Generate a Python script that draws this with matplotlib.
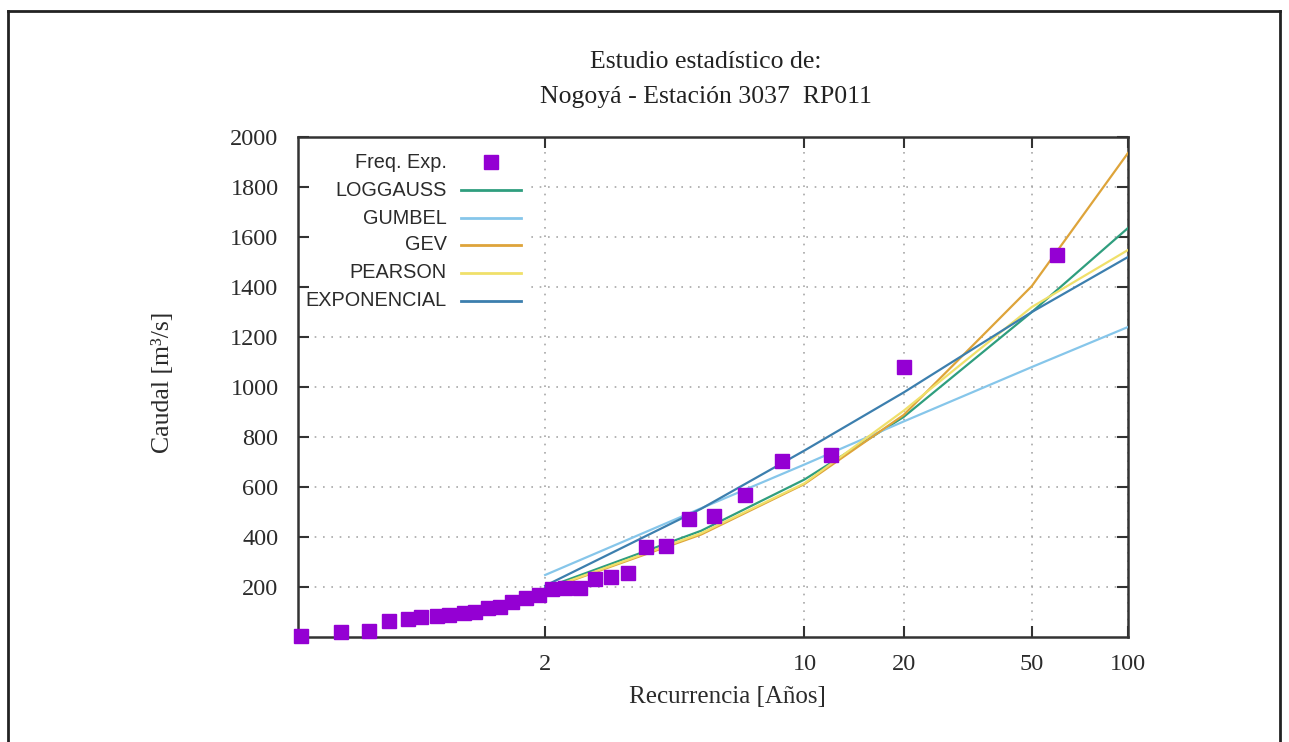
import numpy as np
import matplotlib.pyplot as plt
from matplotlib.lines import Line2D
from matplotlib.patches import Rectangle

""" Data """
# frecuencia experimental (periodo de retorno en años, caudal m3/s)
t_exp = [60.0, 20.0, 12.0, 8.57, 6.67, 5.45, 4.62, 4.0, 3.53, 3.16,
         2.86, 2.61, 2.40, 2.22, 2.07, 1.94, 1.82, 1.71, 1.62, 1.54,
         1.46, 1.40, 1.33, 1.28, 1.22, 1.18, 1.13, 1.09, 1.05, 1.017]
q_exp = [1528, 1080, 728, 704, 568, 484, 472, 364, 360, 256,
         240, 232, 196, 196, 192, 168, 156, 140, 122, 116,
         100, 96, 88, 84, 80, 72, 64, 24, 20, 6]

# ajustes
t_fit = [2, 5, 10, 20, 50, 100]
loggauss = [196, 425, 630, 880, 1300, 1636]
gumbel = [248, 515, 690, 862, 1080, 1240]
gev = [188, 410, 612, 888, 1404, 1936]
pearson = [190, 415, 615, 905, 1320, 1548]
exponencial = [205, 513, 746, 978, 1300, 1520]

x_ticks = [2, 10, 20, 50, 100]
y_ticks = [200, 400, 600, 800, 1000, 1200, 1400, 1600, 1800, 2000]

series = [("LOGGAUSS", loggauss, "#2f9e7e"),
          ("GUMBEL", gumbel, "#86c6ea"),
          ("GEV", gev, "#dea43a"),
          ("PEARSON", pearson, "#f0e06a"),
          ("EXPONENCIAL", exponencial, "#3c7fae")]


""" Gumbel scale """
def fwd(t):
    t = np.asarray(t, dtype=float)
    with np.errstate(all="ignore"):
        return -np.log(-np.log(1 - 1 / t))


def inv(y):
    y = np.asarray(y, dtype=float)
    with np.errstate(all="ignore"):
        return 1 / (1 - np.exp(-np.exp(-y)))


""" Plot """
serif = "Liberation Serif"
sans = "Liberation Sans"
txt = "#2b2b2b"

fig = plt.figure(figsize=(12.89, 7.42), dpi=100)
ax = fig.add_axes([298 / 1289, 1 - 637 / 742, 830 / 1289, 500 / 742])
ax.set_xscale("function", functions=(fwd, inv))

for name, vals, c in series:
    ax.plot(t_fit, vals, color=c, lw=1.6, zorder=3)

ax.plot(t_exp, q_exp, "s", color="#9400d3", ms=9.5, zorder=4, clip_on=False)

ax.set_xlim(1.01565, 100)
ax.set_ylim(0, 2000)
ax.set_xticks(x_ticks)
ax.set_xticklabels([str(v) for v in x_ticks])
ax.xaxis.set_minor_locator(plt.NullLocator())
ax.set_yticks(y_ticks)
ax.set_yticklabels([str(v) for v in y_ticks])

ax.tick_params(direction="in", top=True, right=True, length=8, width=1.5,
               color="#333333", labelsize=17.5, labelcolor=txt)
ax.tick_params(axis="x", pad=12)
ax.tick_params(axis="y", pad=14)
for lab in ax.get_xticklabels() + ax.get_yticklabels():
    lab.set_family(serif)

for s in ax.spines.values():
    s.set_linewidth(1.8)
    s.set_color("#333333")

ax.grid(True, linestyle=(0, (1, 4)), color="#a8a8a8", lw=1.2)

ax.set_xlabel("Recurrencia [Años]", family=serif, fontsize=18, color=txt, va="center")
ax.xaxis.set_label_coords(0.517, -0.12)
ax.set_ylabel("Caudal [m³/s]", family=serif, fontsize=18.5, color=txt, va="center")
ax.yaxis.set_label_coords(-0.163, 0.51)

fig.text(706 / 1289, 1 - 62 / 742, "Estudio estadístico de:", family=serif,
         fontsize=18.5, color="#222222", ha="center", va="center")
fig.text(706 / 1289, 1 - 97 / 742, "Nogoyá - Estación 3037  RP011", family=serif,
         fontsize=18.5, color="#222222", ha="center", va="center")

""" Key """
ax.add_patch(Rectangle((0.013, 0.638), 0.2665, 0.36, transform=ax.transAxes,
                       fc="white", ec="none", zorder=1.8))
key_y = [0.95, 0.894, 0.838, 0.784, 0.728, 0.672]
labels = ["Freq. Exp."] + [s[0] for s in series]
for i, (lab, ky) in enumerate(zip(labels, key_y)):
    ax.text(0.1795, ky, lab, transform=ax.transAxes, ha="right", va="center",
            family=sans, fontsize=14.3, color=txt, zorder=5)
    if i == 0:
        ax.add_line(Line2D([0.2325], [ky], transform=ax.transAxes, marker="s",
                           ms=9.5, color="#9400d3", ls="none", zorder=5))
    else:
        ax.add_line(Line2D([0.196, 0.2687], [ky, ky], transform=ax.transAxes,
                           color=series[i - 1][2], lw=2, zorder=5))

# marco de la imagen
for xs, ys in [([0.0062, 0.0062], [0, 0.985]), ([0.0062, 0.993], [0.985, 0.985]),
               ([0.993, 0.993], [0, 0.985])]:
    fig.add_artist(Line2D(xs, ys, transform=fig.transFigure, color="#222222", lw=2))

fig.savefig("out.png", dpi=100)
